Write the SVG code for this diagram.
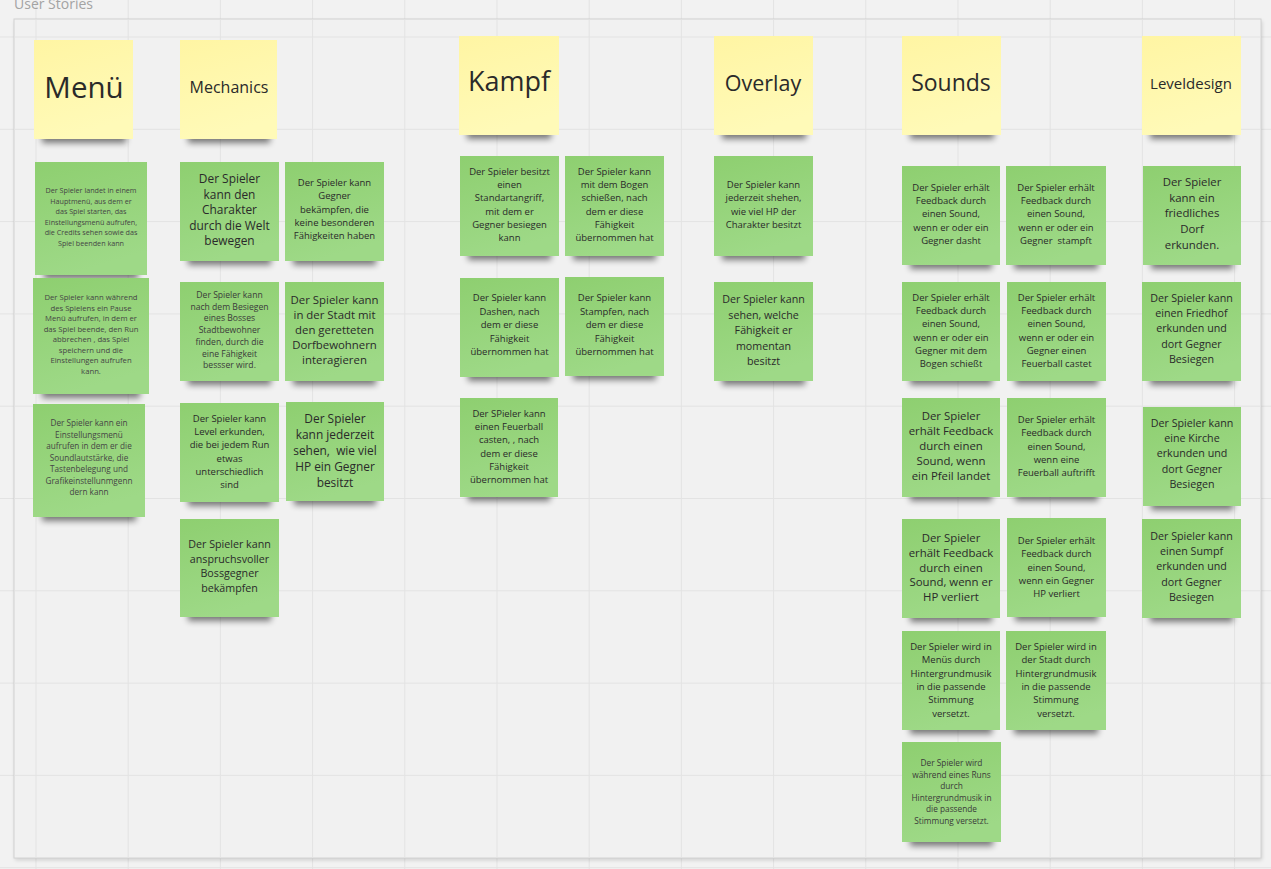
<svg xmlns="http://www.w3.org/2000/svg" width="1271" height="869" viewBox="0 0 1271 869">
<defs>
<linearGradient id="gg" x1="0" y1="0" x2="0.3" y2="1"><stop offset="0" stop-color="#8ecf70"/><stop offset="1" stop-color="#9ed987"/></linearGradient>
<linearGradient id="yg" x1="0" y1="0" x2="0.3" y2="1"><stop offset="0" stop-color="#fff5a3"/><stop offset="1" stop-color="#fffab8"/></linearGradient>
<filter id="blur" x="-20%" y="-100%" width="140%" height="300%"><feGaussianBlur stdDeviation="3"/></filter>
<filter id="fsh" x="-5%" y="-5%" width="110%" height="110%"><feGaussianBlur stdDeviation="2"/></filter>
</defs>
<style>
.grid{stroke:#e3e3e3;stroke-width:1;fill:none}
.sh{fill:#000;opacity:.5;filter:url(#blur)}
.gn{fill:url(#gg)}
.yl{fill:url(#yg)}
text{font-family:"Open Sans","Noto Sans","DejaVu Sans",sans-serif;fill:#2a2a2a;text-anchor:middle;dominant-baseline:central}
.t7{font-size:7.2px;fill:#454545}
.t75{font-size:7.7px;fill:#454545}
.t8{font-size:8.2px;fill:#454545}
.t9{font-size:8.6px;fill:#3a3a3a}
.t10{font-size:9.5px}
.t11{font-size:10.7px}
.t12{font-size:11.4px}
.t13{font-size:11.9px}
</style>
<rect width="1271" height="869" fill="#f2f2f2"/>
<path class="grid" d="M36 0V869M128.2 0V869M220.4 0V869M312.6 0V869M404.8 0V869M497 0V869M589.2 0V869M681.4 0V869M773.6 0V869M865.8 0V869M958 0V869M1050.2 0V869M1142.4 0V869M1234.6 0V869M0 37H1271M0 129.3H1271M0 221.6H1271M0 313.9H1271M0 406.2H1271M0 498.5H1271M0 590.8H1271M0 683.1H1271M0 775.4H1271M0 867.7H1271"/>
<text x="14" y="3" style="font-size:14px;fill:#a3a3a3;text-anchor:start">User Stories</text>
<rect x="15" y="21" width="1247" height="839" fill="#000" opacity=".15" filter="url(#fsh)"/>
<rect x="14" y="19" width="1247" height="839" fill="#f1f1f1" stroke="#d2d2d2" stroke-width="1"/>
<path class="grid" d="M36 19.5V857.5M128.2 19.5V857.5M220.4 19.5V857.5M312.6 19.5V857.5M404.8 19.5V857.5M497 19.5V857.5M589.2 19.5V857.5M681.4 19.5V857.5M773.6 19.5V857.5M865.8 19.5V857.5M958 19.5V857.5M1050.2 19.5V857.5M1142.4 19.5V857.5M1234.6 19.5V857.5M14.5 37H1260.5M14.5 129.3H1260.5M14.5 221.6H1260.5M14.5 313.9H1260.5M14.5 406.2H1260.5M14.5 498.5H1260.5M14.5 590.8H1260.5M14.5 683.1H1260.5M14.5 775.4H1260.5"/>

<g id="h-menu"><rect class="sh" x="42" y="131" width="84" height="12"/><rect class="yl" x="34" y="40" width="99" height="99"/><text x="84" y="86" style="font-size:29.5px">Menü</text></g>
<g id="h-mechanics"><rect class="sh" x="188" y="131" width="82" height="12"/><rect class="yl" x="180" y="40" width="97" height="99"/><text x="229" y="87" style="font-size:16px">Mechanics</text></g>
<g id="h-kampf"><rect class="sh" x="467" y="127" width="84" height="12"/><rect class="yl" x="459" y="36" width="100" height="99"/><text x="509" y="80" style="font-size:27px">Kampf</text></g>
<g id="h-overlay"><rect class="sh" x="722" y="127" width="84" height="12"/><rect class="yl" x="714" y="36" width="99" height="99"/><text x="763" y="82" style="font-size:21.5px">Overlay</text></g>
<g id="h-sounds"><rect class="sh" x="910" y="127" width="84" height="12"/><rect class="yl" x="902" y="36" width="99" height="99"/><text x="951" y="82" style="font-size:23px">Sounds</text></g>
<g id="h-leveldesign"><rect class="sh" x="1150" y="127" width="84" height="12"/><rect class="yl" x="1142" y="36" width="99" height="99"/><text x="1191" y="83" style="font-size:15px">Leveldesign</text></g>

<g id="m1"><rect class="sh" x="44" y="267" width="94" height="12"/><rect class="gn" x="35" y="162" width="112" height="113"/><text class="t7"><tspan x="91" y="190">Der Spieler landet in einem</tspan><tspan x="91" y="200.5">Hauptmenü, aus dem er</tspan><tspan x="91" y="211">das Spiel starten, das</tspan><tspan x="91" y="221.5">Einstellungsmenü aufrufen,</tspan><tspan x="91" y="232">die Credits sehen sowie das</tspan><tspan x="91" y="242.5">Spiel beenden kann</tspan></text></g>
<g id="m2"><rect class="sh" x="42" y="386" width="98" height="12"/><rect class="gn" x="33" y="278" width="116" height="116"/><text class="t75"><tspan x="91" y="297">Der Spieler kann während</tspan><tspan x="91" y="307.5">des Spielens ein Pause</tspan><tspan x="91" y="318">Menü aufrufen, in dem er</tspan><tspan x="91" y="328.5">das Spiel beende, den Run</tspan><tspan x="91" y="339">abbrechen , das Spiel</tspan><tspan x="91" y="349.5">speichern und die</tspan><tspan x="91" y="360">Einstellungen aufrufen</tspan><tspan x="91" y="370.5">kann.</tspan></text></g>
<g id="m3"><rect class="sh" x="42" y="509" width="94" height="12"/><rect class="gn" x="33" y="404" width="112" height="113"/><text class="t8"><tspan x="89" y="422">Der Spieler kann ein</tspan><tspan x="89" y="433.5">Einstellungsmenü</tspan><tspan x="89" y="445">aufrufen in dem er die</tspan><tspan x="89" y="456.5">Soundlautstärke, die</tspan><tspan x="89" y="468">Tastenbelegung und</tspan><tspan x="89" y="479.5">Grafikeinstellunmgenn</tspan><tspan x="89" y="491">dern kann</tspan></text></g>

<g id="me1"><rect class="sh" x="188" y="253" width="83" height="12"/><rect class="gn" x="180" y="162" width="99" height="99"/><text class="t13"><tspan x="229.5" y="178">Der Spieler</tspan><tspan x="229.5" y="193.5">kann den</tspan><tspan x="229.5" y="209">Charakter</tspan><tspan x="229.5" y="224.5">durch die Welt</tspan><tspan x="229.5" y="240">bewegen</tspan></text></g>
<g id="me2"><rect class="sh" x="293" y="253" width="83" height="12"/><rect class="gn" x="285" y="162" width="99" height="99"/><text class="t10"><tspan x="334.5" y="182">Der Spieler kann</tspan><tspan x="334.5" y="195.3">Gegner</tspan><tspan x="334.5" y="208.6">bekämpfen, die</tspan><tspan x="334.5" y="221.9">keine besonderen</tspan><tspan x="334.5" y="235.2">Fähigkeiten haben</tspan></text></g>
<g id="me3"><rect class="sh" x="188" y="373" width="83" height="12"/><rect class="gn" x="180" y="282" width="99" height="99"/><text class="t9"><tspan x="229.5" y="295">Der Spieler kann</tspan><tspan x="229.5" y="306.7">nach dem Besiegen</tspan><tspan x="229.5" y="318.4">eines Bosses</tspan><tspan x="229.5" y="330.1">Stadtbewohner</tspan><tspan x="229.5" y="341.8">finden, durch die</tspan><tspan x="229.5" y="353.5">eine Fähigkeit</tspan><tspan x="229.5" y="365.2">bessser wird.</tspan></text></g>
<g id="me4"><rect class="sh" x="293" y="373" width="83" height="12"/><rect class="gn" x="285" y="282" width="99" height="99"/><text class="t12"><tspan x="334.5" y="299">Der Spieler kann</tspan><tspan x="334.5" y="314">in der Stadt mit</tspan><tspan x="334.5" y="329">den geretteten</tspan><tspan x="334.5" y="344">Dorfbewohnern</tspan><tspan x="334.5" y="359">interagieren</tspan></text></g>
<g id="me5"><rect class="sh" x="188" y="494" width="83" height="12"/><rect class="gn" x="180" y="403" width="99" height="99"/><text class="t10"><tspan x="229.5" y="418">Der Spieler kann</tspan><tspan x="229.5" y="431.2">Level erkunden,</tspan><tspan x="229.5" y="444.4">die bei jedem Run</tspan><tspan x="229.5" y="457.6">etwas</tspan><tspan x="229.5" y="470.8">unterschiedlich</tspan><tspan x="229.5" y="484">sind</tspan></text></g>
<g id="me6"><rect class="sh" x="294" y="493" width="82" height="12"/><rect class="gn" x="286" y="402" width="98" height="99"/><text class="t13"><tspan x="335" y="418">Der Spieler</tspan><tspan x="335" y="434">kann jederzeit</tspan><tspan x="335" y="450" xml:space="preserve">sehen,  wie viel</tspan><tspan x="335" y="466">HP ein Gegner</tspan><tspan x="335" y="482">besitzt</tspan></text></g>
<g id="me7"><rect class="sh" x="188" y="609" width="83" height="12"/><rect class="gn" x="180" y="519" width="99" height="98"/><text class="t11"><tspan x="229.5" y="544">Der Spieler kann</tspan><tspan x="229.5" y="558.7">anspruchsvoller</tspan><tspan x="229.5" y="573.4">Bossgegner</tspan><tspan x="229.5" y="588.1">bekämpfen</tspan></text></g>

<g id="k1"><rect class="sh" x="468" y="248" width="83" height="12"/><rect class="gn" x="460" y="156" width="99" height="100"/><text class="t10"><tspan x="509.5" y="171">Der Spieler besitzt</tspan><tspan x="509.5" y="184.2">einen</tspan><tspan x="509.5" y="197.4">Standartangriff,</tspan><tspan x="509.5" y="210.6">mit dem er</tspan><tspan x="509.5" y="223.8">Gegner besiegen</tspan><tspan x="509.5" y="237">kann</tspan></text></g>
<g id="k2"><rect class="sh" x="573" y="248" width="83" height="12"/><rect class="gn" x="565" y="156" width="99" height="100"/><text class="t10"><tspan x="614.5" y="171">Der Spieler kann</tspan><tspan x="614.5" y="184.2">mit dem Bogen</tspan><tspan x="614.5" y="197.4">schießen, nach</tspan><tspan x="614.5" y="210.6">dem er diese</tspan><tspan x="614.5" y="223.8">Fähigkeit</tspan><tspan x="614.5" y="237">übernommen hat</tspan></text></g>
<g id="k3"><rect class="sh" x="468" y="369" width="83" height="12"/><rect class="gn" x="460" y="278" width="99" height="99"/><text class="t10"><tspan x="509.5" y="297">Der Spieler kann</tspan><tspan x="509.5" y="310.5">Dashen, nach</tspan><tspan x="509.5" y="324">dem er diese</tspan><tspan x="509.5" y="337.5">Fähigkeit</tspan><tspan x="509.5" y="351">übernommen hat</tspan></text></g>
<g id="k4"><rect class="sh" x="573" y="368" width="83" height="12"/><rect class="gn" x="565" y="277" width="99" height="99"/><text class="t10"><tspan x="614.5" y="297">Der Spieler kann</tspan><tspan x="614.5" y="310.5">Stampfen, nach</tspan><tspan x="614.5" y="324">dem er diese</tspan><tspan x="614.5" y="337.5">Fähigkeit</tspan><tspan x="614.5" y="351">übernommen hat</tspan></text></g>
<g id="k5"><rect class="sh" x="468" y="489" width="82" height="12"/><rect class="gn" x="460" y="398" width="98" height="99"/><text class="t10"><tspan x="509" y="413">Der SPieler kann</tspan><tspan x="509" y="426.2">einen Feuerball</tspan><tspan x="509" y="439.4">casten, , nach</tspan><tspan x="509" y="452.6">dem er diese</tspan><tspan x="509" y="465.8">Fähigkeit</tspan><tspan x="509" y="479">übernommen hat</tspan></text></g>

<g id="o1"><rect class="sh" x="722" y="248" width="83" height="12"/><rect class="gn" x="714" y="156" width="99" height="100"/><text class="t10"><tspan x="763.5" y="184">Der Spieler kann</tspan><tspan x="763.5" y="197.3">jederzeit shehen,</tspan><tspan x="763.5" y="210.6">wie viel HP der</tspan><tspan x="763.5" y="223.9">Charakter besitzt</tspan></text></g>
<g id="o2"><rect class="sh" x="722" y="373" width="83" height="12"/><rect class="gn" x="714" y="282" width="99" height="99"/><text class="t11"><tspan x="763.5" y="299">Der Spieler kann</tspan><tspan x="763.5" y="314.5">sehen, welche</tspan><tspan x="763.5" y="330">Fähigkeit er</tspan><tspan x="763.5" y="345.5">momentan</tspan><tspan x="763.5" y="361">besitzt</tspan></text></g>

<g id="s1"><rect class="sh" x="910" y="257" width="82" height="12"/><rect class="gn" x="902" y="166" width="98" height="99"/><text class="t10"><tspan x="951" y="187">Der Spieler erhält</tspan><tspan x="951" y="200.2">Feedback durch</tspan><tspan x="951" y="213.4">einen Sound,</tspan><tspan x="951" y="226.6">wenn er oder ein</tspan><tspan x="951" y="239.8">Gegner dasht</tspan></text></g>
<g id="s2"><rect class="sh" x="1014" y="257" width="84" height="12"/><rect class="gn" x="1006" y="166" width="100" height="99"/><text class="t10"><tspan x="1056" y="187">Der Spieler erhält</tspan><tspan x="1056" y="200.2">Feedback durch</tspan><tspan x="1056" y="213.4">einen Sound,</tspan><tspan x="1056" y="226.6">wenn er oder ein</tspan><tspan x="1056" y="239.8" xml:space="preserve">Gegner  stampft</tspan></text></g>
<g id="s3"><rect class="sh" x="910" y="373" width="82" height="12"/><rect class="gn" x="902" y="282" width="98" height="99"/><text class="t10"><tspan x="951" y="297">Der Spieler erhält</tspan><tspan x="951" y="310.2">Feedback durch</tspan><tspan x="951" y="323.4">einen Sound,</tspan><tspan x="951" y="336.6">wenn er oder ein</tspan><tspan x="951" y="349.8">Gegner mit dem</tspan><tspan x="951" y="363">Bogen schießt</tspan></text></g>
<g id="s4"><rect class="sh" x="1015" y="373" width="83" height="12"/><rect class="gn" x="1007" y="282" width="99" height="99"/><text class="t10"><tspan x="1056.5" y="297">Der Spieler erhält</tspan><tspan x="1056.5" y="310.2">Feedback durch</tspan><tspan x="1056.5" y="323.4">einen Sound,</tspan><tspan x="1056.5" y="336.6">wenn er oder ein</tspan><tspan x="1056.5" y="349.8">Gegner einen</tspan><tspan x="1056.5" y="363">Feuerball castet</tspan></text></g>
<g id="s5"><rect class="sh" x="910" y="489" width="82" height="12"/><rect class="gn" x="902" y="398" width="98" height="99"/><text class="t12"><tspan x="951" y="415">Der Spieler</tspan><tspan x="951" y="430">erhält Feedback</tspan><tspan x="951" y="445">durch einen</tspan><tspan x="951" y="460">Sound, wenn</tspan><tspan x="951" y="475">ein Pfeil landet</tspan></text></g>
<g id="s6"><rect class="sh" x="1015" y="489" width="83" height="12"/><rect class="gn" x="1007" y="398" width="99" height="99"/><text class="t10"><tspan x="1056.5" y="419">Der Spieler erhält</tspan><tspan x="1056.5" y="432.3">Feedback durch</tspan><tspan x="1056.5" y="445.6">einen Sound,</tspan><tspan x="1056.5" y="458.9">wenn eine</tspan><tspan x="1056.5" y="472.2">Feuerball auftrifft</tspan></text></g>
<g id="s7"><rect class="sh" x="910" y="610" width="82" height="12"/><rect class="gn" x="902" y="519" width="98" height="99"/><text class="t12"><tspan x="951" y="537">Der Spieler</tspan><tspan x="951" y="551.8">erhält Feedback</tspan><tspan x="951" y="566.6">durch einen</tspan><tspan x="951" y="581.4">Sound, wenn er</tspan><tspan x="951" y="596.2">HP verliert</tspan></text></g>
<g id="s8"><rect class="sh" x="1015" y="609" width="83" height="12"/><rect class="gn" x="1007" y="518" width="99" height="99"/><text class="t10"><tspan x="1056.5" y="540">Der Spieler erhält</tspan><tspan x="1056.5" y="553.3">Feedback durch</tspan><tspan x="1056.5" y="566.6">einen Sound,</tspan><tspan x="1056.5" y="579.9">wenn ein Gegner</tspan><tspan x="1056.5" y="593.2">HP verliert</tspan></text></g>
<g id="s9"><rect class="sh" x="910" y="722" width="82" height="12"/><rect class="gn" x="902" y="631" width="98" height="99"/><text class="t10"><tspan x="951" y="646">Der Spieler wird in</tspan><tspan x="951" y="659.3">Menüs durch</tspan><tspan x="951" y="672.6">Hintergrundmusik</tspan><tspan x="951" y="685.9">in die passende</tspan><tspan x="951" y="699.2">Stimmung</tspan><tspan x="951" y="712.5">versetzt.</tspan></text></g>
<g id="s10"><rect class="sh" x="1014" y="722" width="84" height="12"/><rect class="gn" x="1006" y="631" width="100" height="99"/><text class="t10"><tspan x="1056" y="646">Der Spieler wird in</tspan><tspan x="1056" y="659.3">der Stadt durch</tspan><tspan x="1056" y="672.6">Hintergrundmusik</tspan><tspan x="1056" y="685.9">in die passende</tspan><tspan x="1056" y="699.2">Stimmung</tspan><tspan x="1056" y="712.5">versetzt.</tspan></text></g>
<g id="s11"><rect class="sh" x="910" y="834" width="83" height="12"/><rect class="gn" x="902" y="742" width="99" height="100"/><text class="t9" style="font-size:8.3px"><tspan x="951.5" y="762">Der Spieler wird</tspan><tspan x="951.5" y="773.5">während eines Runs</tspan><tspan x="951.5" y="785">durch</tspan><tspan x="951.5" y="796.5">Hintergrundmusik in</tspan><tspan x="951.5" y="808">die passende</tspan><tspan x="951.5" y="819.5">Stimmung versetzt.</tspan></text></g>

<g id="l1"><rect class="sh" x="1151" y="257" width="82" height="12"/><rect class="gn" x="1143" y="166" width="98" height="99"/><text class="t12"><tspan x="1192" y="181">Der Spieler</tspan><tspan x="1192" y="196.7">kann ein</tspan><tspan x="1192" y="212.4">friedliches</tspan><tspan x="1192" y="228.1">Dorf</tspan><tspan x="1192" y="243.8">erkunden.</tspan></text></g>
<g id="l2"><rect class="sh" x="1150" y="373" width="83" height="12"/><rect class="gn" x="1142" y="282" width="99" height="99"/><text class="t11"><tspan x="1191.5" y="298">Der Spieler kann</tspan><tspan x="1191.5" y="313.2">einen Friedhof</tspan><tspan x="1191.5" y="328.4">erkunden und</tspan><tspan x="1191.5" y="343.6">dort Gegner</tspan><tspan x="1191.5" y="358.8">Besiegen</tspan></text></g>
<g id="l3"><rect class="sh" x="1151" y="498" width="82" height="12"/><rect class="gn" x="1143" y="407" width="98" height="99"/><text class="t11"><tspan x="1192" y="423">Der Spieler kann</tspan><tspan x="1192" y="438.2">eine Kirche</tspan><tspan x="1192" y="453.4">erkunden und</tspan><tspan x="1192" y="468.6">dort Gegner</tspan><tspan x="1192" y="483.8">Besiegen</tspan></text></g>
<g id="l4"><rect class="sh" x="1150" y="610" width="83" height="12"/><rect class="gn" x="1142" y="519" width="99" height="99"/><text class="t11"><tspan x="1191.5" y="536">Der Spieler kann</tspan><tspan x="1191.5" y="551.2">einen Sumpf</tspan><tspan x="1191.5" y="566.4">erkunden und</tspan><tspan x="1191.5" y="581.6">dort Gegner</tspan><tspan x="1191.5" y="596.8">Besiegen</tspan></text></g>
<g id="connectors"/>
</svg>
